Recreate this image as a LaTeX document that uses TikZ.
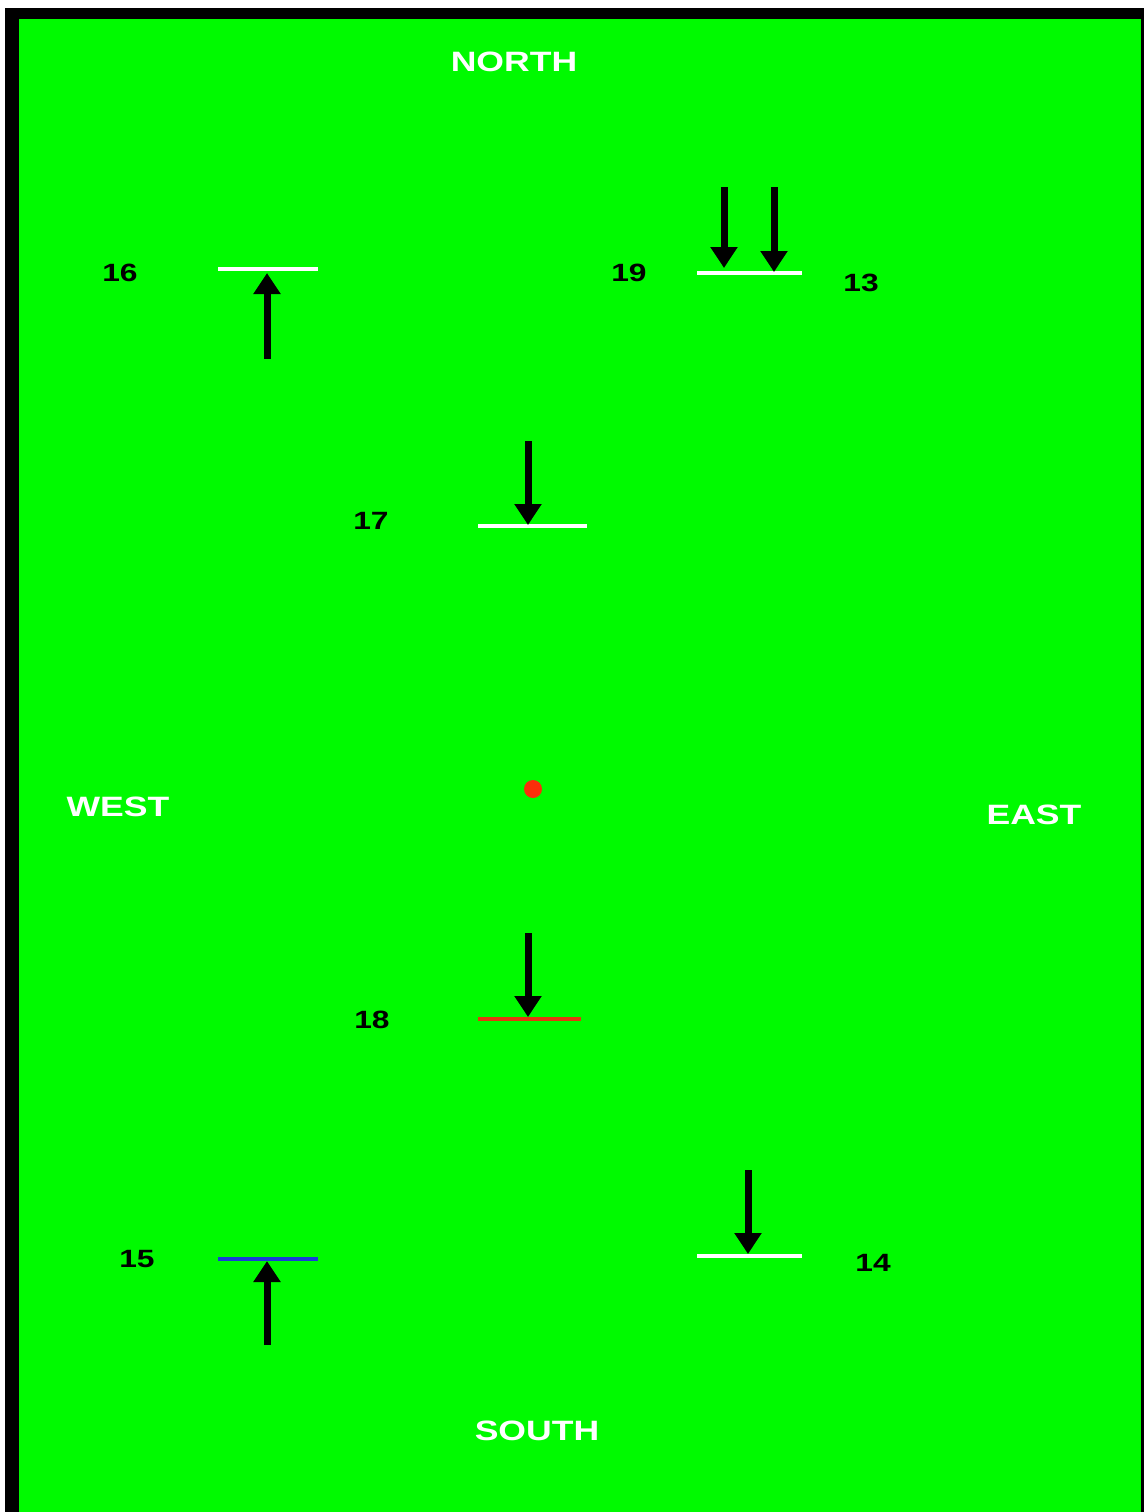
\documentclass[tikz,border=0pt]{standalone}
\usepackage{fontspec}
\setmainfont{Liberation Sans}
\usetikzlibrary{arrows.meta}
\definecolor{fieldgreen}{RGB}{0,250,0}
\definecolor{dotred}{RGB}{250,45,10}
\definecolor{linered}{RGB}{228,55,15}
\definecolor{lineblue}{RGB}{25,60,215}
\tikzset{
  compass/.style={text=white,font=\fontsize{14}{14}\selectfont\bfseries,inner sep=0pt},
  num/.style={text=black,font=\fontsize{12.5}{12.5}\selectfont\bfseries,inner sep=0pt},
  bar/.style={line width=2pt},
  pointer/.style={line width=3.5pt,-{Triangle[width=13pt,length=10.5pt]}},
}
\newcommand{\wide}[1]{\scalebox{1.27}[1]{#1}}
\begin{document}
\begin{tikzpicture}[x=0.5pt,y=-0.5pt]
\useasboundingbox (0,0) rectangle (1144,1512);
\fill[white] (0,0) rectangle (1144,1512);
\fill[black] (5,8) rectangle (1144,1512);
\fill[fieldgreen] (19,19) rectangle (1141,1512);

% compass labels
\node[compass] (north) at (514,62) {\wide{NORTH}};
\node[compass] (south) at (537,1431) {\wide{SOUTH}};
\node[compass] (west) at (118,807) {\wide{WEST}};
\node[compass] (east) at (1034,815) {\wide{EAST}};

% number labels
\node[num] (n16) at (120,273) {\wide{16}};
\node[num] (n19) at (629,273) {\wide{19}};
\node[num] (n13) at (861,283) {\wide{13}};
\node[num] (n17) at (371,521) {\wide{17}};
\node[num] (n18) at (372,1020) {\wide{18}};
\node[num] (n15) at (137,1259) {\wide{15}};
\node[num] (n14) at (873,1263) {\wide{14}};

% bars
\coordinate (b16l) at (218,269); \coordinate (b16r) at (318,269);
\coordinate (b19l) at (697,273); \coordinate (b19r) at (802,273);
\coordinate (b17l) at (478,526); \coordinate (b17r) at (587,526);
\coordinate (b18l) at (478,1019); \coordinate (b18r) at (581,1019);
\coordinate (b15l) at (218,1259); \coordinate (b15r) at (318,1259);
\coordinate (b14l) at (697,1256); \coordinate (b14r) at (802,1256);
\draw[bar,white] (b16l) -- (b16r);
\draw[bar,white] (b19l) -- (b19r);
\draw[bar,white] (b17l) -- (b17r);
\draw[bar,linered] (b18l) -- (b18r);
\draw[bar,lineblue] (b15l) -- (b15r);
\draw[bar,white] (b14l) -- (b14r);

% arrows
\coordinate (a16s) at (267,359); \coordinate (a16t) at (267,273);
\coordinate (a19s) at (724,187); \coordinate (a19t) at (724,268);
\coordinate (a13s) at (774,187); \coordinate (a13t) at (774,272);
\coordinate (a17s) at (528,441); \coordinate (a17t) at (528,525);
\coordinate (a18s) at (528,933); \coordinate (a18t) at (528,1017);
\coordinate (a15s) at (267,1345); \coordinate (a15t) at (267,1261);
\coordinate (a14s) at (748,1170); \coordinate (a14t) at (748,1254);
\draw[pointer] (a16s) -- (a16t);
\draw[pointer] (a19s) -- (a19t);
\draw[pointer] (a13s) -- (a13t);
\draw[pointer] (a17s) -- (a17t);
\draw[pointer] (a18s) -- (a18t);
\draw[pointer] (a15s) -- (a15t);
\draw[pointer] (a14s) -- (a14t);

% centre dot
\fill[dotred] (533,789) circle[radius=9];
\end{tikzpicture}
\end{document}
